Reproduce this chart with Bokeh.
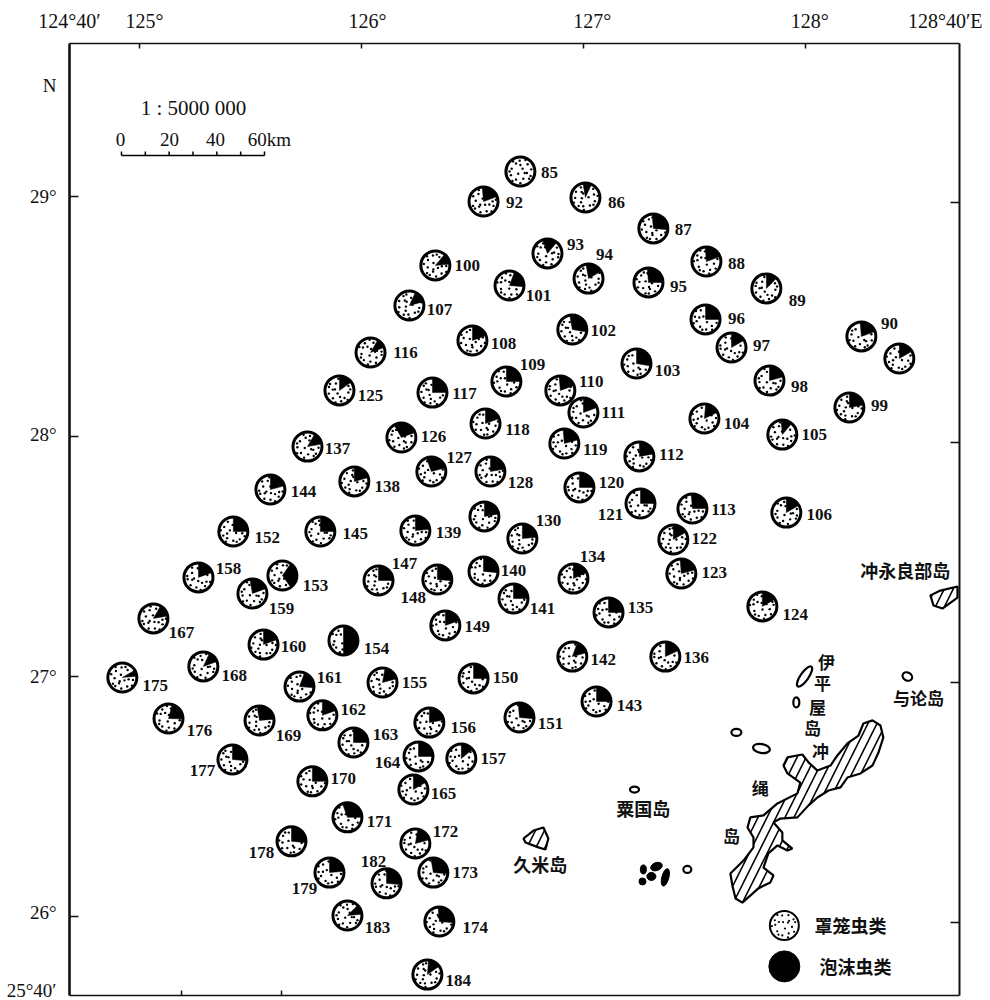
import math
from bokeh.plotting import figure
from bokeh.models import LinearAxis, FixedTicker, Range1d
from bokeh.core.properties import value
from bokeh.embed import file_html
from bokeh.resources import INLINE

# ---- station data (degrees E / degrees N) ----
STATIONS = [85,86,87,88,89,90,91,92,93,94,
            95,96,97,98,99,100,101,102,103,104,
            105,106,107,108,109,110,111,112,113,116,
            117,118,119,120,121,122,123,124,125,126,
            127,128,129,130,134,135,136,137,138,139,
            140,141,142,143,144,145,147,148,149,150,
            151,152,153,154,155,156,157,158,159,160,
            161,162,163,164,165,167,168,169,170,171,
            172,173,174,175,176,177,178,179,182,183,184]
LON = [126.716,127.009,127.315,127.554,127.824,128.252,128.423,126.550,126.838,127.023,
       127.293,127.550,127.667,127.838,128.198,126.333,126.667,126.950,127.239,127.545,
       127.896,127.914,126.216,126.500,126.653,126.896,127.000,127.252,127.491,126.041,
       126.320,126.559,126.914,126.982,127.257,127.405,127.441,127.806,125.901,126.180,
       126.315,126.581,126.554,126.725,126.955,127.113,127.369,125.757,125.968,126.243,
       126.550,126.685,126.950,127.059,125.590,125.815,126.077,126.342,126.378,126.505,
       126.712,125.423,125.644,125.919,126.095,126.306,126.450,125.266,125.509,125.559,
       125.721,125.824,125.964,126.257,126.234,125.063,125.288,125.541,125.779,125.937,
       126.243,126.324,126.351,124.923,125.131,125.419,125.685,125.856,126.113,125.937,126.297]
LAT = [29.104,28.996,28.867,28.729,28.617,28.417,28.325,28.979,28.763,28.658,
       28.642,28.488,28.371,28.233,28.121,28.713,28.629,28.446,28.304,28.075,
       28.008,27.683,28.546,28.400,28.229,28.192,28.100,27.917,27.700,28.350,
       28.183,28.054,27.971,27.788,27.721,27.571,27.429,27.292,28.192,27.996,
       27.854,27.854,27.667,27.575,27.408,27.267,27.083,27.958,27.813,27.608,
       27.438,27.325,27.083,26.896,27.779,27.604,27.400,27.404,27.213,26.992,
       26.829,27.604,27.421,27.150,26.975,26.808,26.658,27.413,27.346,27.133,
       26.958,26.838,26.725,26.667,26.529,27.242,27.042,26.817,26.563,26.413,
       26.304,26.183,25.979,26.996,26.825,26.654,26.313,26.183,26.138,26.004,25.758]
# black sector (泡沫虫类) as math angles, running clockwise from start to end
BLACK_START = [90,100,95,95,90,95,90,95,110,100,
               95,90,90,90,90,50,70,100,90,85,
               95,90,65,90,90,95,90,90,95,60,
               90,90,95,90,90,90,95,90,90,120,
               110,90,90,90,90,90,90,60,90,90,
               90,90,70,90,90,90,90,90,90,90,
               95,90,55,90,80,90,90,90,100,90,
               70,90,90,90,90,60,65,100,90,110,
               80,100,95,30,75,90,90,90,90,45,85]
BLACK_END = [90,65,-5,20,45,20,30,20,50,30,
             0,0,30,15,10,5,-5,-10,-10,25,
             50,30,15,20,0,20,20,10,0,20,
             0,20,15,0,0,30,15,30,35,20,
             15,10,10,5,25,0,25,10,15,5,
             -5,0,15,0,15,0,0,-5,20,0,
             -5,0,-55,-90,15,10,40,20,20,20,
             -5,20,0,0,30,10,20,5,0,0,
             15,-5,-5,5,-2,-5,-5,5,-5,5,35]

# layout of the station numbers: pixels from the pie centre
LABEL_DX = [29,31,30,30,31,28,0,31,28,16,
            30,31,30,30,30,32,29,31,31,32,
            32,33,30,31,26,31,30,32,31,35,
            32,32,31,32,-30,31,33,33,31,32,
            28,30,0,26,19,32,31,30,33,33,
            30,29,31,33,33,35,26,-24,32,32,
            31,34,33,33,32,34,32,30,29,30,
            30,31,32,-31,30,28,31,29,31,32,
            30,32,36,33,31,-30,-30,-25,-13,30,31]
LABEL_DY = [1,5,1,2,12,-13,0,1,-9,-24,
            4,-1,-2,6,-2,0,10,1,7,5,
            0,2,4,3,-17,-9,0,-2,1,0,
            1,6,6,-5,11,-1,-1,8,5,-1,
            -14,11,0,-18,-22,-5,1,2,5,2,
            -1,10,3,4,2,2,-17,18,1,-1,
            6,6,10,8,0,5,0,-9,15,2,
            -9,-6,-8,6,4,14,9,15,-3,4,
            -12,0,6,8,12,11,11,16,-22,12,6]
UNLABELLED = [91, 129]

# ---- map geometry (degrees E / degrees N) ----
OKINAWA_LON = [128.302,128.338,128.351,128.329,128.302,128.248,128.189,128.158,128.104,128.054,
               128.014,127.964,127.887,127.856,127.896,127.896,127.941,127.919,127.874,127.833,
               127.811,127.856,127.842,127.788,127.716,127.685,127.671,127.662,127.721,127.766,
               127.766,127.739,127.752,127.811,127.874,127.964,127.977,127.919,127.901,127.919,
               127.986,128.014,128.054,128.113,128.144,128.189,128.239,128.261]
OKINAWA_LAT = [26.817,26.796,26.746,26.683,26.629,26.596,26.579,26.538,26.525,26.496,
               26.463,26.413,26.408,26.392,26.350,26.317,26.283,26.275,26.296,26.263,
               26.204,26.171,26.142,26.117,26.058,26.075,26.129,26.179,26.233,26.288,
               26.329,26.371,26.413,26.421,26.471,26.513,26.558,26.596,26.629,26.663,
               26.675,26.642,26.608,26.629,26.671,26.721,26.754,26.804]
KUME_LON = [126.730,126.775,126.820,126.842,126.829,126.797,126.739]
KUME_LAT = [26.325,26.358,26.371,26.325,26.279,26.288,26.308]
OKINOERABU_LON = [128.563,128.608,128.685,128.685,128.617,128.577]
OKINOERABU_LAT = [27.338,27.358,27.375,27.329,27.283,27.296]
# small islands: lon, lat, and their drawn size/tilt
RING_LON = [127.996,127.959,127.689,127.802,128.459,127.230,127.468]
RING_LAT = [27.000,26.892,26.767,26.700,27.000,26.529,26.196]
RING_W = [24,6,10,17,10,9,8]
RING_H = [8,10,7,9,8,6,7]
RING_A = [55,0,0,-10,-30,0,0]
SOLID_LON = [127.270,127.329,127.306,127.266,127.369]
SOLID_LAT = [26.196,26.208,26.167,26.146,26.163]
SOLID_W = [6,12,9,7,7]
SOLID_H = [9,8,8,7,18]
SOLID_A = [0,20,0,0,-15]

PLACE_NAMES = ["冲永良部岛","与论岛","粟国岛","久米岛","伊","平","屋","岛","冲","绳","岛"]
PLACE_LON = [128.450,128.509,127.270,126.806,128.095,128.077,128.054,128.032,128.068,127.797,127.667]
PLACE_LAT = [27.442,26.913,26.454,26.217,27.063,26.975,26.875,26.788,26.692,26.538,26.338]
PLACE_SIZE = ["18px","17px","18px","18px","17px","17px","17px","17px","17px","17px","17px"]

LEGEND_NAMES = ["罩笼虫类","泡沫虫类"]
LEGEND_LON = [127.905,127.905]
LEGEND_LAT = [25.9625,25.792]

X_TICKS = [125,126,127,128]
X_BOTTOM_TICKS = [125.189,125.640]
Y_TICKS = [26,27,28,29]
X_TICK_LABELS = ["124°40′","125°","126°","127°","128°","128°40′E"]
X_LABEL_AT = [124.685,125.0225,126.027,127.04,128.02,128.63]
Y_TICK_LABELS = ["N","29°","28°","27°","26°","25°40′"]
Y_LABEL_AT = [29.4625,29.0,28.01,27.0,26.017,25.688]

SCALE_KM = [0,10,20,30,40,50,60]
SCALE_TEXT = ["0","20","40","60km"]

# ---- layout ----
W, H = 990, 1000
L_PX, R_PX, T_PX, B_PX = 69, 959, 43, 995     # frame edges in page pixels
LON0, LON1, LAT0, LAT1 = 124.685, 128.694, 25.6708, 29.6375
DX = (LON1 - LON0) / (R_PX - L_PX)
DY = (LAT1 - LAT0) / (B_PX - T_PX)
def x2lon(px): return LON0 + (px - L_PX) * DX
def y2lat(py): return LAT1 - (py - T_PX) * DY

SERIF = value("Liberation Serif")
CJK = value("Noto Sans CJK SC")

p = figure(width=W, height=H, output_backend="svg", toolbar_location=None,
           x_range=Range1d(LON0, LON1), y_range=Range1d(LAT0, LAT1),
           x_axis_type=None, y_axis_type=None,
           min_border_left=L_PX, min_border_right=W - R_PX,
           min_border_top=T_PX, min_border_bottom=H - B_PX)
p.grid.visible = False
p.outline_line_color = None
p.background_fill_color = "white"
p.border_fill_color = "white"
p.extra_y_ranges = {"east": Range1d(LAT0 + 0.026, LAT1 + 0.026)}

def mark_axis(ticks, width, tick_len, **kw):
    return LinearAxis(ticker=FixedTicker(ticks=ticks), major_tick_in=tick_len, major_tick_out=0,
                      minor_tick_in=0, minor_tick_out=0, major_label_text_font_size="0px",
                      major_label_standoff=0, axis_line_color="#111111", major_tick_line_color="#111111",
                      axis_line_width=width, major_tick_line_width=1.5,
                      major_label_text_color=None, **kw)

def label_axis(ticks, labels, size, standoff):
    return LinearAxis(ticker=FixedTicker(ticks=ticks), major_label_overrides=dict(zip(ticks, labels)),
                      major_tick_in=0, major_tick_out=0, minor_tick_in=0, minor_tick_out=0,
                      axis_line_color=None, major_tick_line_color=None,
                      major_label_text_font="Liberation Serif", major_label_text_font_size=size,
                      major_label_text_color="#111111", major_label_standoff=standoff)

p.add_layout(mark_axis(Y_TICKS, 2.6, 9), "left")
p.add_layout(mark_axis(X_TICKS, 1.6, 5), "above")
p.add_layout(mark_axis(Y_TICKS, 2.0, 9, y_range_name="east"), "right")
p.add_layout(mark_axis(X_BOTTOM_TICKS, 1.6, 5), "below")
p.add_layout(label_axis(X_LABEL_AT, X_TICK_LABELS, "20px", 12), "above")
p.add_layout(label_axis(Y_LABEL_AT, Y_TICK_LABELS, "19px", 13), "left")

# ---- islands ----
HATCH = dict(fill_color="white", line_color="black", line_width=2.2,
             hatch_pattern="right_diagonal_line", hatch_color="black", hatch_scale=18, hatch_weight=1.6)
p.patch(OKINAWA_LON, OKINAWA_LAT, **HATCH)
p.patch(KUME_LON, KUME_LAT, **HATCH)
p.patch(OKINOERABU_LON, OKINOERABU_LAT, **HATCH)
p.ellipse(RING_LON, RING_LAT, width=RING_W, height=RING_H, angle=RING_A, angle_units="deg",
          width_units="screen", height_units="screen", fill_color="white", line_color="black", line_width=2.2)
p.ellipse(SOLID_LON, SOLID_LAT, width=SOLID_W, height=SOLID_H, angle=SOLID_A, angle_units="deg",
          width_units="screen", height_units="screen", fill_color="black", line_color="black")

# ---- pies ----
PIE_R = 14.5
# stipple texture: fixed offsets inside the unit circle
STIPPLE = [(0.15,0.2),(-0.3,0.55),(0.5,0.5),(-0.6,0.2),(-0.15,-0.15),(0.45,-0.1),(-0.65,-0.25),
           (0.75,0.15),(-0.3,-0.55),(0.2,-0.5),(0.6,-0.5),(-0.05,0.75),(-0.75,0.0),(0.0,-0.8),
           (0.35,0.8),(-0.5,0.7),(-0.55,-0.65),(0.3,-0.1),(0.0,0.45),(0.7,-0.3)]

def in_black(ang, start, end):
    if start == end:
        return False
    return (start - ang) % 360 <= (start - end) % 360

def stipple_xy(lon, lat, rot, start=0, end=0):
    xs, ys = [], []
    for ox, oy in STIPPLE:
        a = math.atan2(oy, ox) + rot
        r = math.hypot(ox, oy)
        if in_black(math.degrees(a), start, end):
            continue
        xs.append(lon + r * PIE_R * math.cos(a) * DX)
        ys.append(lat + r * PIE_R * math.sin(a) * DY)
    return xs, ys

p.circle(LON, LAT, radius=PIE_R, radius_units="screen", fill_color="white",
         line_color="black", line_width=3)
sect = [i for i in range(len(STATIONS)) if BLACK_START[i] != BLACK_END[i]]
p.wedge([LON[i] for i in sect], [LAT[i] for i in sect], radius=PIE_R, radius_units="screen",
        start_angle=[math.radians(BLACK_START[i]) for i in sect],
        end_angle=[math.radians(BLACK_END[i]) for i in sect],
        direction="clock", fill_color="black", line_color="black", line_width=0.5)
sx, sy = [], []
for i, (lo, la, s, e) in enumerate(zip(LON, LAT, BLACK_START, BLACK_END)):
    xs, ys = stipple_xy(lo, la, i * 2.4, s, e)
    sx += xs
    sy += ys
p.scatter(sx, sy, marker="circle", size=2.4, fill_color="black", line_color=None)

# station numbers
shown = [i for i, n in enumerate(STATIONS) if n not in UNLABELLED]
p.text([LON[i] for i in shown], [LAT[i] for i in shown],
       text=[str(STATIONS[i]) for i in shown],
       x_offset=[LABEL_DX[i] for i in shown], y_offset=[LABEL_DY[i] for i in shown],
       text_font=SERIF, text_font_size="17px", text_font_style="bold", text_color="#111111",
       text_align="center", text_baseline="middle")

# place names
p.text(PLACE_LON, PLACE_LAT, text=PLACE_NAMES, text_font=CJK, text_font_size=PLACE_SIZE,
       text_font_style="bold", text_color="#111111", text_align="center", text_baseline="middle")

# ---- legend ----
p.circle(LEGEND_LON[:1], LEGEND_LAT[:1], radius=14.5, radius_units="screen", fill_color="white",
         line_color="black", line_width=2)
lx, ly = stipple_xy(LEGEND_LON[0], LEGEND_LAT[0], 1.0)
p.scatter(lx, ly, marker="circle", size=2.2, fill_color="black", line_color=None)
p.circle(LEGEND_LON[1:], LEGEND_LAT[1:], radius=15.5, radius_units="screen", fill_color="black",
         line_color="black")
p.text([128.203, 128.225], LEGEND_LAT, text=LEGEND_NAMES, text_font=CJK, text_font_size="18px",
       text_font_style="bold", text_color="#111111", text_align="center", text_baseline="middle")

# ---- scale bar ----
KM = 143 / 60 * DX                      # degrees of the drawn bar per km
bar_lon = x2lon(121)
bar_lat = y2lat(155)
p.segment([bar_lon], [bar_lat], [bar_lon + SCALE_KM[-1] * KM], [bar_lat], line_color="black", line_width=1.6)
p.segment([bar_lon + k * KM for k in SCALE_KM], [bar_lat] * len(SCALE_KM),
          [bar_lon + k * KM for k in SCALE_KM], [bar_lat + 4 * DY] * len(SCALE_KM),
          line_color="black", line_width=1.5)
SCALE_POS = [(120,139),(169,139),(215,139),(269,139)]
p.text([x2lon(a) for a, b in SCALE_POS], [y2lat(b) for a, b in SCALE_POS], text=SCALE_TEXT,
       text_font=SERIF, text_font_size="19px", text_color="#111111",
       text_align="center", text_baseline="middle")
p.text([x2lon(193)], [y2lat(107)], text=["1 : 5000 000"], text_font=SERIF, text_font_size="21px",
       text_color="#111111", text_align="center", text_baseline="middle")

open("out.html", "w").write(file_html(p, INLINE))
